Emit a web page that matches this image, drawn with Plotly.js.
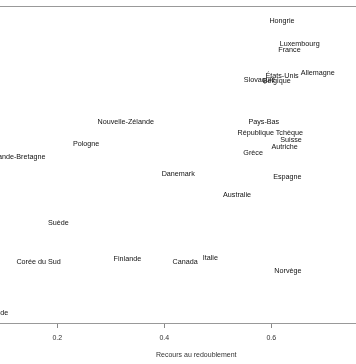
<!DOCTYPE html>
<html>
<head>
<meta charset="utf-8">
<script src="https://cdn.plot.ly/plotly-3.0.1.min.js"></script>
<style>html,body{margin:0;padding:0;background:#fff;}#chart{width:356px;height:364px;filter:grayscale(1);}</style>
</head>
<body>
<div id="chart"></div>
<script>
const pays = ["Hongrie","Luxembourg","France","Allemagne","États-Unis","Slovaquie","Belgique",
  "Pays-Bas","Nouvelle-Zélande","République Tchèque","Suisse","Pologne","Autriche","Grèce",
  "Grande-Bretagne","Danemark","Espagne","Australie","Suède","Italie","Finlande",
  "Corée du Sud","Canada","Norvège","Islande"];
const redoublement = [0.620,0.653,0.634,0.687,0.620,0.578,0.610,
  0.586,0.328,0.598,0.637,0.254,0.625,0.566,
  0.126,0.426,0.630,0.536,0.202,0.486,0.331,
  0.165,0.439,0.631,0.0867];
const indice = [0.956,0.882,0.863,0.791,0.782,0.769,0.766,
  0.635,0.636,0.601,0.578,0.566,0.557,0.537,
  0.526,0.470,0.462,0.404,0.315,0.206,0.203,
  0.193,0.192,0.165,0.030];
const xTicks = [0.2,0.4,0.6];
const xTickLabels = ["0.2","0.4","0.6"];
const xTitle = "Recours au redoublement";

const font = "Liberation Sans, Arial, Helvetica, sans-serif";
const trace = {
  type: "scatter", mode: "text",
  x: redoublement, y: indice, text: pays,
  textposition: "middle center",
  textfont: {family: font, size: 7.2, color: "#111"},
  hoverinfo: "none", cliponaxis: true, showlegend: false
};
const layout = {
  width: 356, height: 364,
  margin: {l: 0, r: 0, t: 7, b: 41, pad: 0},
  paper_bgcolor: "#fff", plot_bgcolor: "#fff",
  xaxis: {
    range: [0.0929, 0.7583], tickvals: xTicks, ticktext: xTickLabels,
    ticks: "outside", ticklen: 4, tickcolor: "#888", tickwidth: 1,
    ticklabelstandoff: 4,
    showline: true, linecolor: "#999", linewidth: 1, mirror: true,
    showgrid: false, zeroline: false,
    tickfont: {family: font, size: 7, color: "#333"}
  },
  yaxis: {range: [0, 1], visible: false, showgrid: false, zeroline: false},
  annotations: [{
    text: xTitle, xref: "paper", yref: "paper",
    x: 196.7/356, y: -31/316, xanchor: "center", yanchor: "middle",
    showarrow: false, font: {family: font, size: 7, color: "#333"}
  }]
};
Plotly.newPlot("chart", [trace], layout, {staticPlot: true, displayModeBar: false});
</script>
</body>
</html>
